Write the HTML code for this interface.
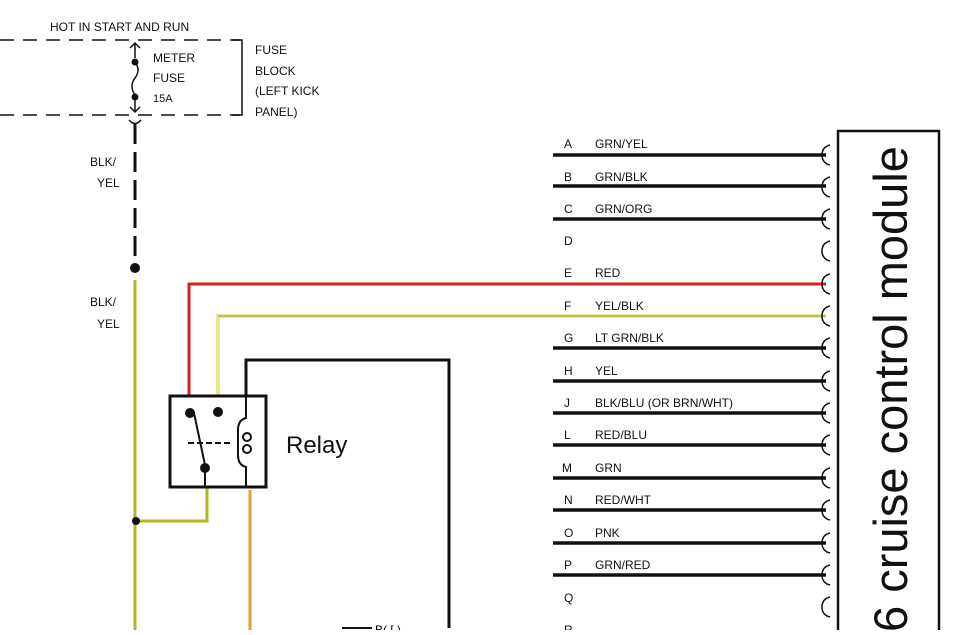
<!DOCTYPE html>
<html><head><style>
body{margin:0;background:#fff;width:962px;height:630px;overflow:hidden}
</style></head><body>
<svg width="962" height="630" viewBox="0 0 962 630" xmlns="http://www.w3.org/2000/svg" font-family="Liberation Sans, sans-serif">
<rect width="962" height="630" fill="#fff"/>
<g font-size="12" fill="#111">
<text x="50" y="31">HOT IN START AND RUN</text>
<text x="153" y="62">METER</text>
<text x="153" y="82">FUSE</text>
<text x="153" y="102" font-size="11">15A</text>
<text x="255" y="54">FUSE</text>
<text x="255" y="75">BLOCK</text>
<text x="255" y="95">(LEFT KICK</text>
<text x="255" y="116">PANEL)</text>
<text x="90" y="166">BLK/</text>
<text x="97" y="187">YEL</text>
<text x="90" y="306">BLK/</text>
<text x="97" y="328">YEL</text>
</g>
<g stroke="#111" stroke-width="1.5" fill="none">
<path d="M0 40H240M0 115H240" stroke-dasharray="14,9"/>
<path d="M232 40H242V115H232"/>
<path d="M135 43V58M130 48L135 43L140 48"/>
<path d="M135 62Q141 70 135 78Q129 86 135 95M135 97V112M130 107L135 112L140 107"/>
<path d="M129 120Q135 127 141 120"/>
</g>
<circle cx="135" cy="62" r="3.5" fill="#111"/>
<circle cx="135" cy="97" r="3.5" fill="#111"/>
<path d="M135 124V268" stroke="#111" stroke-width="3" stroke-dasharray="20,8"/>
<circle cx="135" cy="268" r="5" fill="#111"/>
<path d="M135 280V630" stroke="#b5b52a" stroke-width="3"/>
<path d="M135 521H207V487" stroke="#b5b52a" stroke-width="3" fill="none"/>
<circle cx="136" cy="521" r="4" fill="#111"/>
<path d="M189 396V284H826" stroke="#d42020" stroke-width="3" fill="none"/>
<path d="M218 396V316H826" stroke="#e8e890" stroke-width="4" fill="none"/>
<path d="M218 316H826" stroke="#999930" stroke-width="1" fill="none"/>
<path d="M246 396V360H449V628" stroke="#111" stroke-width="3" fill="none"/>
<path d="M250 490V630" stroke="#e0a030" stroke-width="3"/>
<path d="M342 628H372" stroke="#111" stroke-width="2"/>
<text x="375" y="634" font-size="12">B( [ )</text>
<rect x="170" y="396" width="96" height="91" fill="none" stroke="#111" stroke-width="3"/>
<circle cx="190" cy="413" r="5" fill="#111"/>
<circle cx="218" cy="412" r="5" fill="#111"/>
<circle cx="205" cy="468" r="5" fill="#111"/>
<path d="M194 413L205 465M205 468V487M185 443H230" stroke="#111" stroke-width="2" fill="none"/>
<path d="M185 443H230" stroke="#fff" stroke-width="2" stroke-dasharray="3,6"/>
<path d="M246 396V418Q238 420 238 430V455Q238 465 246 467V487" stroke="#111" stroke-width="2" fill="none"/>
<circle cx="247" cy="437" r="4" fill="none" stroke="#111" stroke-width="2"/>
<circle cx="247" cy="449" r="4" fill="none" stroke="#111" stroke-width="2"/>
<text x="286" y="453" font-size="24" fill="#111">Relay</text>
<g stroke="#111" stroke-width="3.5">
<path d="M553 155H826M553 186H826M553 219H826M553 348H826M553 381H826M553 413H826M553 445H826M553 478H826M553 510H826M553 543H826M553 575H826"/>
</g>
<g stroke="#111" stroke-width="1.5" fill="none">
<path d="M830 145Q822 147 822 155Q822 163 830 165M830 177Q822 179 822 187Q822 195 830 197M830 209Q822 211 822 219Q822 227 830 229M830 241Q822 243 822 251Q822 259 830 261M830 274Q822 276 822 284Q822 292 830 294M830 306Q822 308 822 316Q822 324 830 326M830 338Q822 340 822 348Q822 356 830 358M830 371Q822 373 822 381Q822 389 830 391M830 403Q822 405 822 413Q822 421 830 423M830 435Q822 437 822 445Q822 453 830 455M830 468Q822 470 822 478Q822 486 830 488M830 500Q822 502 822 510Q822 518 830 520M830 533Q822 535 822 543Q822 551 830 553M830 565Q822 567 822 575Q822 583 830 585M830 597Q822 599 822 607Q822 615 830 617"/>
</g>
<g font-size="12" fill="#111">
<text x="564" y="148">A</text><text x="595" y="148">GRN/YEL</text>
<text x="564" y="181">B</text><text x="595" y="181">GRN/BLK</text>
<text x="564" y="213">C</text><text x="595" y="213">GRN/ORG</text>
<text x="564" y="245">D</text>
<text x="564" y="277">E</text><text x="595" y="277">RED</text>
<text x="564" y="310">F</text><text x="595" y="310">YEL/BLK</text>
<text x="564" y="342">G</text><text x="595" y="342">LT GRN/BLK</text>
<text x="564" y="375">H</text><text x="595" y="375">YEL</text>
<text x="564" y="407">J</text><text x="595" y="407">BLK/BLU (OR BRN/WHT)</text>
<text x="564" y="439">L</text><text x="595" y="439">RED/BLU</text>
<text x="562" y="472">M</text><text x="595" y="472">GRN</text>
<text x="564" y="504">N</text><text x="595" y="504">RED/WHT</text>
<text x="564" y="537">O</text><text x="595" y="537">PNK</text>
<text x="564" y="569">P</text><text x="595" y="569">GRN/RED</text>
<text x="564" y="602">Q</text>
<text x="564" y="634">R</text>
</g>
<path d="M838 640V131H939V640" fill="none" stroke="#111" stroke-width="2.5"/>
<text transform="translate(907,632) rotate(-90)" font-size="47" fill="#111">6 cruise control module</text>
</svg>
</body></html>
